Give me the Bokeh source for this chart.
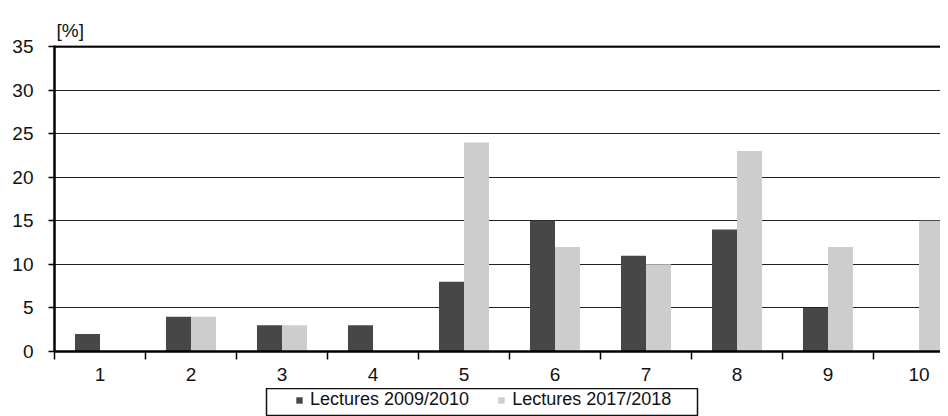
from bokeh.plotting import figure
from bokeh.layouts import column
from bokeh.models import FixedTicker, Legend, LegendItem, Span, Range1d
from bokeh.embed import file_html
from bokeh.resources import INLINE

categories = [1, 2, 3, 4, 5, 6, 7, 8, 9, 10]
tick_labels = ["1", "2", "3", "4", "5", "6", "7", "8", "9", "10"]
lectures_2009 = [2, 4, 3, 3, 8, 15, 11, 14, 5, 0]
lectures_2017 = [0, 4, 3, 0, 24, 12, 10, 23, 12, 15]
series_names = ["Lectures 2009/2010", "Lectures 2017/2018"]

DARK = "#474747"
LIGHT = "#cdcdcd"
FONT = "Liberation Sans"

p = figure(width=940, height=388, output_backend="svg", toolbar_location=None,
           x_range=Range1d(0.5, 10.236), y_range=Range1d(0, 35.12),
           min_border_left=54, min_border_right=0, min_border_top=45, min_border_bottom=37,
           frame_align=False)

p.title.text = "[%]"
p.title.text_font = FONT
p.title.text_font_size = "19px"
p.title.text_font_style = "normal"
p.title.text_color = "#111111"
p.title.align = "left"
p.title.offset = 2
p.title.standoff = 10

w = 0.275
x_dark = [c - w / 2 for c in categories]
x_light = [c + w / 2 for c in categories]
p.vbar(x=x_dark, top=lectures_2009, width=w, bottom=0, fill_color=DARK, line_color=None)
p.vbar(x=x_light, top=lectures_2017, width=w, bottom=0, fill_color=LIGHT, line_color=None)

p.outline_line_color = None
p.xgrid.grid_line_color = None
p.ygrid.grid_line_color = "#222222"
p.ygrid.grid_line_width = 1
p.ygrid.ticker = FixedTicker(ticks=[5, 10, 15, 20, 25, 30])
p.add_layout(Span(location=35, dimension="width", line_color="black", line_width=2.5))

p.xaxis.ticker = FixedTicker(ticks=categories, minor_ticks=[c - 0.5 for c in categories] + [10.5])
p.xaxis.major_label_overrides = {c: t for c, t in zip(categories, tick_labels)}
p.xaxis.major_tick_line_color = None
p.xaxis.minor_tick_line_color = "black"
p.xaxis.minor_tick_line_width = 1.5
p.xaxis.minor_tick_out = 8
p.xaxis.minor_tick_in = 0
p.xaxis.axis_line_width = 2.5
p.xaxis.axis_line_color = "black"
p.xaxis.major_label_text_font = FONT
p.xaxis.major_label_text_font_size = "19px"
p.xaxis.major_label_text_color = "#111111"
p.xaxis.major_label_standoff = 8

p.yaxis.ticker = FixedTicker(ticks=[0, 5, 10, 15, 20, 25, 30, 35])
p.yaxis.minor_tick_line_color = None
p.yaxis.major_tick_out = 6
p.yaxis.major_tick_in = 0
p.yaxis.major_tick_line_width = 1.5
p.yaxis.axis_line_width = 2.5
p.yaxis.axis_line_color = "black"
p.yaxis.major_label_text_font = FONT
p.yaxis.major_label_text_font_size = "19px"
p.yaxis.major_label_text_color = "#111111"
p.yaxis.major_label_standoff = 15

# legend strip: its frame outline forms the legend box
lf = figure(width=940, height=28, output_backend="svg", toolbar_location=None,
            x_range=Range1d(-20, -19), y_range=Range1d(-20, -19),
            min_border_left=266, min_border_right=243, min_border_top=0, min_border_bottom=0,
            frame_align=False)
lf.axis.visible = False
lf.grid.grid_line_color = None
lf.outline_line_color = "#111111"
lf.outline_line_width = 1.5
g1 = lf.vbar(x=categories[:1], top=lectures_2009[:1], width=0.1, fill_color=DARK, line_color=None)
g2 = lf.vbar(x=categories[:1], top=lectures_2017[1:2], width=0.1, fill_color=LIGHT, line_color=None)
legend = Legend(items=[LegendItem(label=series_names[0], renderers=[g1]),
                       LegendItem(label=series_names[1], renderers=[g2])],
                orientation="horizontal", location=(29, 6),
                label_text_font=FONT, label_text_font_size="18px", label_text_color="#111111",
                glyph_width=8, glyph_height=8, label_standoff=7, spacing=28,
                padding=0, margin=0, border_line_color=None,
                background_fill_alpha=0, label_height=20, label_width=10)
lf.add_layout(legend)

layout = column(p, lf, spacing=0)
open("out.html", "w").write(file_html(layout, INLINE))
